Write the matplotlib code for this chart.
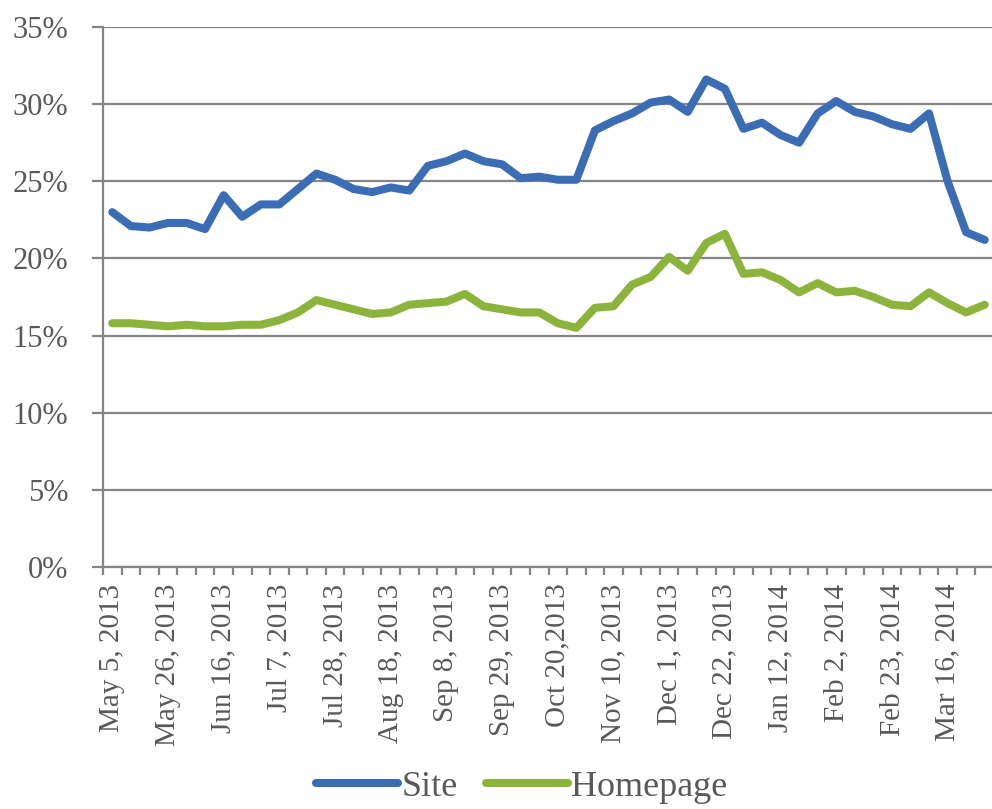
import numpy as np
import matplotlib
matplotlib.use("Agg")
import matplotlib.pyplot as plt

# weekly share (%), first week May 5 2013, last week Mar 30 2014
site = [23.0, 22.1, 22.0, 22.3, 22.3, 21.9, 24.1, 22.7, 23.5, 23.5,
        24.5, 25.5, 25.1, 24.5, 24.3, 24.6, 24.4, 26.0, 26.3, 26.8,
        26.3, 26.1, 25.2, 25.3, 25.1, 25.1, 28.3, 28.9, 29.4, 30.1,
        30.3, 29.5, 31.6, 31.0, 28.4, 28.8, 28.0, 27.5, 29.4, 30.2,
        29.5, 29.2, 28.7, 28.4, 29.4, 25.0, 21.7, 21.2]
homepage = [15.8, 15.8, 15.7, 15.6, 15.7, 15.6, 15.6, 15.7, 15.7, 16.0,
            16.5, 17.3, 17.0, 16.7, 16.4, 16.5, 17.0, 17.1, 17.2, 17.7,
            16.9, 16.7, 16.5, 16.5, 15.8, 15.5, 16.8, 16.9, 18.3, 18.8,
            20.1, 19.2, 21.0, 21.6, 19.0, 19.1, 18.6, 17.8, 18.4, 17.8,
            17.9, 17.5, 17.0, 16.9, 17.8, 17.1, 16.5, 17.0]
week_labels = ["May 5, 2013", "May 26, 2013", "Jun 16, 2013", "Jul 7, 2013",
               "Jul 28, 2013", "Aug 18, 2013", "Sep 8, 2013", "Sep 29, 2013",
               "Oct 20,2013", "Nov 10, 2013", "Dec 1, 2013", "Dec 22, 2013",
               "Jan 12, 2014", "Feb 2, 2014", "Feb 23, 2014", "Mar 16, 2014"]
label_step = 3
y_ticks = [0, 5, 10, 15, 20, 25, 30, 35]

plt.rcParams['font.family'] = ['Liberation Serif', 'DejaVu Serif']
txt = '#595959'
grid_c = '#858585'

fig = plt.figure(figsize=(9.92, 8.09), dpi=100)
ax = fig.add_axes([103/992, 1 - 567/809, (994 - 103)/992, 540/809])

n = len(site)
x = np.arange(n)
ax.plot(x, site, color='#3b6db4', lw=5.8, solid_joinstyle='round',
        solid_capstyle='round', label='Site', zorder=3)
ax.plot(x, homepage, color='#8cb43d', lw=5.8, solid_joinstyle='round',
        solid_capstyle='round', label='Homepage', zorder=3)

ax.set_xlim(-0.5, n - 0.5)
ax.set_ylim(0, 35)

ax.set_yticks(y_ticks)
ax.set_yticklabels([f"{v}%" for v in y_ticks])
ax.yaxis.grid(True, color=grid_c, lw=1.6)
ax.set_axisbelow(True)
ax.tick_params(axis='y', length=8, width=1.6, color=grid_c, pad=17,
               labelsize=22, labelcolor=txt)

ax.set_xticks(x[::label_step])
ax.set_xticklabels(week_labels, rotation=90)
ax.set_xticks(np.arange(n + 1) - 0.5, minor=True)
ax.tick_params(axis='x', which='major', length=0, pad=12,
               labelsize=21, labelcolor=txt)
ax.tick_params(axis='x', which='minor', length=6, width=1.6, color=grid_c)

for side in ['top', 'right']:
    ax.spines[side].set_visible(False)
for side in ['left', 'bottom']:
    ax.spines[side].set_color(grid_c)
    ax.spines[side].set_linewidth(1.6)

fig.legend(loc='center', bbox_to_anchor=(522/992, 1 - 787/809), ncol=2,
           frameon=False, fontsize=26, handlelength=2.25, handletextpad=0.1,
           columnspacing=0.8, labelcolor=txt)

fig.savefig('out.png', dpi=100)
